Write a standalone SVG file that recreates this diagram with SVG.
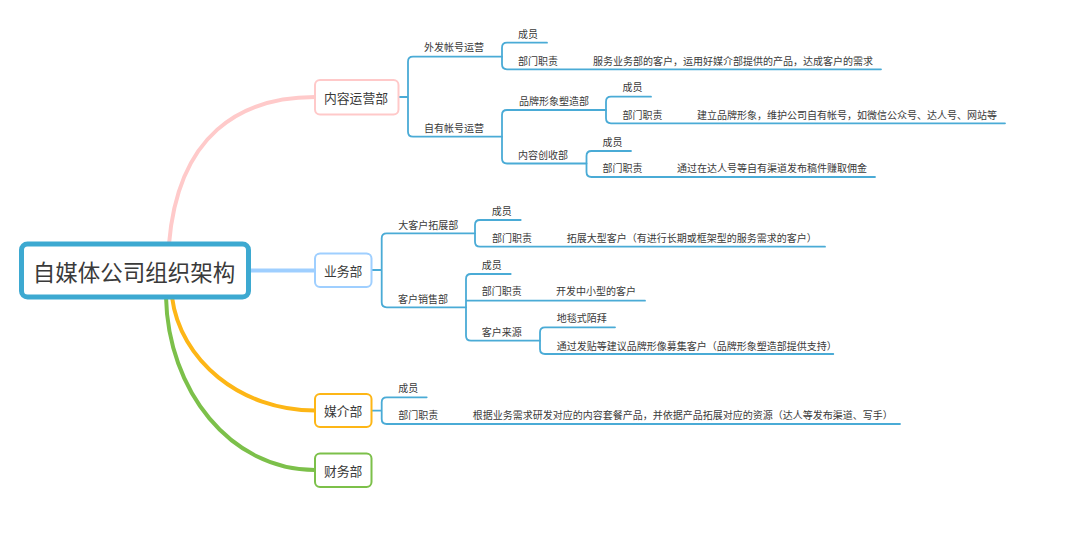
<svg xmlns="http://www.w3.org/2000/svg" width="1080" height="534" viewBox="0 0 1080 534">
<style>
text{font-family:"Noto Sans CJK SC","Noto Sans",sans-serif;fill:#3a3a3a;dominant-baseline:central}
.t{font-size:10px}
.m{font-size:12.8px;text-anchor:middle}
.r{font-size:22.5px;text-anchor:middle}
.sub{fill:none;stroke:#4aabd6;stroke-width:1.8;stroke-linecap:round;stroke-linejoin:round}
.main{fill:none;stroke-width:4;stroke-linecap:round}
.box{fill:#fff;stroke-width:2}
</style>
<rect width="1080" height="534" fill="#fff"/>
<g id="connectors">
<path class="main" stroke="#ffcaca" d="M169 244 C178 135 240 97 315 97"/>
<path class="main" stroke="#9fcfff" d="M250 270.5 H315"/>
<path class="main" stroke="#fdb616" d="M172 297 C180 360 240 410.5 315 410.5"/>
<path class="main" stroke="#7cc04a" d="M166 297 C168 390 230 470 315 470"/>
<path class="sub" d="M399 97 H408 M408 97 V61.7 Q408 56.7 413 56.7 H502 M408 97 V131.7 Q408 136.7 413 136.7 H502"/>
<path class="sub" d="M502 56.7 V47.7 Q502 42.7 507 42.7 H547 M502 56.7 V64.3 Q502 69.3 507 69.3 H881"/>
<path class="sub" d="M502 136.7 V115 Q502 110 507 110 H606 M502 136.7 V158.5 Q502 163.5 507 163.5 H586.5"/>
<path class="sub" d="M606 110 V101.7 Q606 96.7 611 96.7 H651 M606 110 V118.3 Q606 123.3 611 123.3 H1005"/>
<path class="sub" d="M586.5 163.5 V156 Q586.5 151 591.5 151 H631 M586.5 163.5 V172 Q586.5 177 591.5 177 H875"/>
<path class="sub" d="M372 270 H381.7 M381.7 270 V238.3 Q381.7 233.3 386.7 233.3 H475 M381.7 270 V302.3 Q381.7 307.3 386.7 307.3 H466"/>
<path class="sub" d="M475 233.3 V225 Q475 220 480 220 H520.7 M475 233.3 V241.7 Q475 246.7 480 246.7 H825"/>
<path class="sub" d="M466 307.3 V279 Q466 274 471 274 H510.7 M466 300.7 H645 M466 307.3 V335.7 Q466 340.7 471 340.7 H540"/>
<path class="sub" d="M540 340.7 V332.3 Q540 327.3 545 327.3 H615 M540 340.7 V349 Q540 354 545 354 H833.3"/>
<path class="sub" d="M372 410.7 H381.7 M381.7 410.7 V402.3 Q381.7 397.3 386.7 397.3 H426.7 M381.7 410.7 V419 Q381.7 424 386.7 424 H900"/>
</g>
<g id="root">
<rect x="21.5" y="244" width="227" height="53" rx="6" fill="#fff" stroke="#3da9d1" stroke-width="5"/>
<text class="r" x="134" y="270.7">自媒体公司组织架构</text>
</g>
<g id="content">
<rect class="box" x="315" y="80" width="83.5" height="34.5" rx="5" stroke="#ffc9c9"/>
<text class="m" x="356" y="97.3">内容运营部</text>
</g>
<g id="content-out">
<text class="t" x="424" y="46.7">外发帐号运营</text>
<text class="t" x="518" y="33.3">成员</text>
<text class="t" x="518" y="60">部门职责</text>
<text class="t" x="593" y="60">服务业务部的客户，运用好媒介部提供的产品，达成客户的需求</text>
</g>
<g id="content-own">
<text class="t" x="424" y="127.3">自有帐号运营</text>
<text class="t" x="519" y="100.5">品牌形象塑造部</text>
<text class="t" x="622.5" y="86.7">成员</text>
<text class="t" x="622.5" y="114">部门职责</text>
<text class="t" x="697" y="114">建立品牌形象，维护公司自有帐号，如微信公众号、达人号、网站等</text>
<text class="t" x="518" y="154">内容创收部</text>
<text class="t" x="602.5" y="141">成员</text>
<text class="t" x="602.5" y="167.5">部门职责</text>
<text class="t" x="677" y="167.5">通过在达人号等自有渠道发布稿件赚取佣金</text>
</g>
<g id="business">
<rect class="box" x="315" y="253.5" width="56.5" height="33.5" rx="5" stroke="#9fcfff"/>
<text class="m" x="343.2" y="270.5">业务部</text>
</g>
<g id="business-big">
<text class="t" x="398.3" y="224">大客户拓展部</text>
<text class="t" x="491.7" y="210.7">成员</text>
<text class="t" x="492" y="237.3">部门职责</text>
<text class="t" x="566.7" y="237.3">拓展大型客户（有进行长期或框架型的服务需求的客户）</text>
</g>
<g id="business-sales">
<text class="t" x="398" y="298.3">客户销售部</text>
<text class="t" x="481.7" y="264">成员</text>
<text class="t" x="481.7" y="290.7">部门职责</text>
<text class="t" x="556" y="290.7">开发中小型的客户</text>
<text class="t" x="481.7" y="331.7">客户来源</text>
<text class="t" x="556.7" y="317.3">地毯式陌拜</text>
<text class="t" x="556.7" y="345">通过发贴等建议品牌形像募集客户（品牌形象塑造部提供支持）</text>
</g>
<g id="media">
<rect class="box" x="315" y="394" width="56.5" height="33" rx="5" stroke="#fdb616"/>
<text class="m" x="343.2" y="410.7">媒介部</text>
</g>
<g id="media-children">
<text class="t" x="398.3" y="387.3">成员</text>
<text class="t" x="398.3" y="414.3">部门职责</text>
<text class="t" x="472.7" y="414.3">根据业务需求研发对应的内容套餐产品，并依据产品拓展对应的资源（达人等发布渠道、写手）</text>
</g>
<g id="finance">
<rect class="box" x="315" y="453.5" width="56.5" height="33.5" rx="5" stroke="#7cc04a"/>
<text class="m" x="343.2" y="470.3">财务部</text>
</g>
</svg>
